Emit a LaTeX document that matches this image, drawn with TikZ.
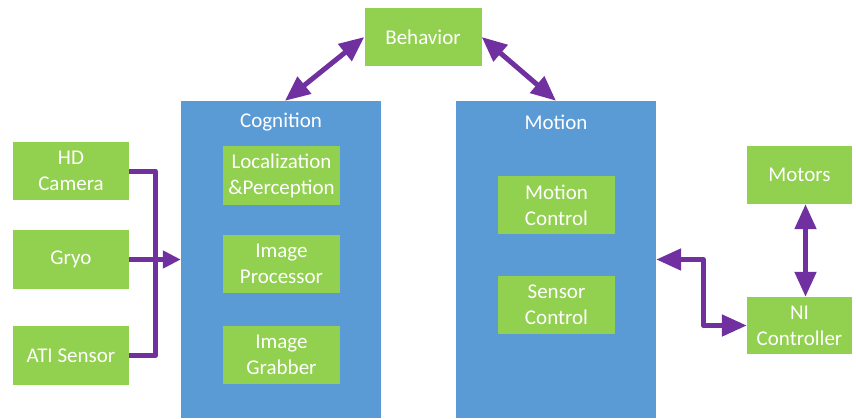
\documentclass[tikz,border=0pt]{standalone}
\usepackage{fontspec}
\setmainfont{Carlito}
\usetikzlibrary{arrows.meta}

\definecolor{boxgreen}{HTML}{92D050}
\definecolor{boxblue}{HTML}{5B9BD5}
\definecolor{linkpurple}{HTML}{7030A0}

\tikzset{
  box/.style={fill=boxgreen, text=white, align=center, inner sep=0pt,
    minimum width=117pt, minimum height=58pt,
    font=\fontsize{21}{26}\selectfont},
  panel/.style={fill=boxblue, inner sep=0pt, minimum width=200pt, minimum height=317pt},
  paneltitle/.style={text=white, inner sep=0pt, font=\fontsize{21}{26}\selectfont},
  link/.style={draw=linkpurple, line width=5pt, line join=round},
  onearrow/.style={link, -{Triangle[length=18pt,width=17pt]}},
  twoarrow/.style={link, {Triangle[length=25pt,width=21pt]}-{Triangle[length=25pt,width=21pt]}}
}

\begin{document}
\begin{tikzpicture}[x=1pt, y=-1pt]
            \useasboundingbox (0, 0) rectangle (856, 418);

            % the two blue panels
            \node[panel] (cog) at (281, 259.5) {};
            \node[panel] (mot) at (556, 259.5) {};
            \node[paneltitle] (cogtitle) at (281, 122) {Cognition};
            \node[paneltitle] (mottitle) at (556, 122) {Motion};

            \node[box] (beh) at (423, 37) {Behavior};

            \node[box, minimum height=59pt] (loc) at (281.5, 175.5) {Localization\\\&Perception};
            \node[box] (proc) at (281.5, 264) {Image\\Processor};
            \node[box] (grab) at (281.5, 355) {Image\\Grabber};

            \node[box] (mctl) at (556.5, 205) {Motion\\Control};
            \node[box] (sctl) at (556.5, 305) {Sensor\\Control};

            \node[box, minimum width=116pt] (hd) at (71, 171) {HD\\Camera};
            \node[box, minimum width=116pt, minimum height=59pt] (gryo) at (71, 259.5) {Gryo};
            \node[box, minimum width=116pt, minimum height=59pt] (ati) at (71, 355.5) {ATI Sensor};

            \node[box, minimum width=105pt] (motors) at (799.5, 175) {Motors};
            \node[box, minimum width=105pt, minimum height=57pt] (ni) at (799.5, 325.5) {NI\\Controller};

            % sensors into cognition
            \draw[link] (hd.east) -- ++(26, 0) |- (ati.east);
            \draw[onearrow] (gryo.east) -- (cog.west |- gryo.east);

            % behavior links
            \draw[twoarrow] (beh.west) -- ([xshift=4pt]cog.north);
            \draw[twoarrow] (beh.east) -- (mot.north);

            % motion side
            \draw[twoarrow] (mot.east) -- ++(47, 0) |- (ni.west);
            \draw[twoarrow] ([xshift=6pt]motors.south) -- ([xshift=6pt]ni.north);
\end{tikzpicture}
\end{document}
